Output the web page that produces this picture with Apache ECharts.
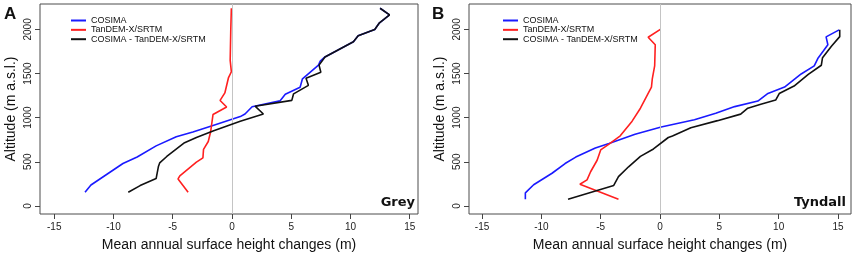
<!DOCTYPE html>
<html>
<head>
<meta charset="utf-8">
<title>Mean annual surface height changes</title>
<script src="https://cdn.jsdelivr.net/npm/echarts@6.0.0/dist/echarts.min.js"></script>
<style>
html, body { margin: 0; padding: 0; background: #fff; }
#chart { width: 856px; height: 257px; }
</style>
</head>
<body>
<div id="chart"></div>
<script>
// each point: [height change (m), altitude (m a.s.l.)]
var greyCosima = [[-12.4, 155], [-11.9, 237], [-9.2, 480], [-8.0, 554], [-6.4, 680], [-4.7, 783], [-3.3, 838], [-1.6, 912], [0.7, 1012], [1.1, 1041], [1.7, 1123], [4.05, 1190], [4.5, 1265], [5.75, 1345], [5.95, 1440], [7.3, 1595], [7.45, 1640], [7.85, 1688], [10.25, 1860], [10.65, 1927], [12.05, 2000], [12.45, 2075], [13.3, 2165], [12.5, 2240]]
var greyTandem = [[-3.7, 155], [-4.55, 305], [-4.4, 340], [-3.0, 495], [-2.45, 545], [-2.4, 640], [-2.0, 730], [-1.8, 840], [-1.6, 1035], [-0.45, 1120], [-1.0, 1195], [-0.6, 1280], [-0.3, 1450], [-0.05, 1520], [-0.15, 1650], [-0.1, 2000], [-0.05, 2240]]
var greyDiff = [[-8.75, 155], [-7.75, 230], [-6.4, 310], [-6.2, 450], [-6.1, 487], [-5.5, 560], [-4.0, 716], [-3.0, 775], [-1.6, 849], [0.7, 960], [2.65, 1041], [1.95, 1130], [5.05, 1196], [5.2, 1270], [6.45, 1366], [6.25, 1447], [7.5, 1514], [7.35, 1595], [7.85, 1688], [10.25, 1860], [10.65, 1927], [12.05, 2000], [12.45, 2075], [13.3, 2165], [12.5, 2240]]

var tyndallCosima = [[-11.35, 75], [-11.35, 147], [-10.65, 240], [-9.1, 370], [-8.0, 480], [-7.1, 553], [-5.45, 657], [-4.3, 708], [-2.1, 811], [0.1, 895], [2.9, 977], [4.7, 1050], [6.3, 1125], [8.25, 1188], [9.1, 1275], [10.5, 1347], [11.9, 1495], [13.0, 1586], [13.3, 1670], [13.75, 1752], [14.15, 1826], [14.0, 1915], [15.1, 1995]]
var tyndallTandem = [[-3.5, 75], [-6.75, 245], [-6.15, 295], [-5.85, 387], [-5.3, 517], [-5.0, 634], [-4.3, 701], [-3.35, 794], [-2.35, 960], [-1.65, 1107], [-0.72, 1347], [-0.65, 1440], [-0.45, 1586], [-0.4, 1826], [-1.0, 1911], [0.03, 2000]]
var tyndallDiff = [[-7.75, 75], [-3.9, 232], [-3.5, 332], [-2.65, 443], [-1.65, 561], [-0.55, 645], [0.7, 775], [1.05, 793], [2.6, 885], [4.85, 966], [6.8, 1040], [7.4, 1107], [8.5, 1151], [9.75, 1199], [10.05, 1273], [11.3, 1358], [12.5, 1490], [13.6, 1594], [13.7, 1679], [14.45, 1810], [15.15, 1918], [15.15, 1995]]

var xTicks = [-15, -10, -5, 0, 5, 10, 15]
var yTicks = [0, 500, 1000, 1500, 2000]
var seriesNames = ['COSIMA', 'TanDEM-X/SRTM', 'COSIMA - TanDEM-X/SRTM']
var colors = ['#1a1aff', '#ff2020', '#111111']
var font = 'Liberation Sans, Arial, sans-serif'

function makeXAxis (idx) {
  return {
    type: 'value',
    gridIndex: idx,
    min: idx === 0 ? -16.2 : -16.1,
    max: idx === 0 ? 15.7 : 16.1,
    name: 'Mean annual surface height changes (m)',
    nameLocation: 'middle',
    nameGap: 24,
    nameTextStyle: { fontFamily: font, fontSize: 14, color: '#111' },
    axisLine: { show: false, onZero: false },
    axisTick: { show: true, inside: false, length: 5, customValues: xTicks, lineStyle: { color: '#444' } },
    axisLabel: { customValues: xTicks, margin: 8, fontFamily: font, fontSize: 10, color: '#222' },
    splitLine: { show: false }
  }
}

function makeYAxis (idx) {
  return {
    type: 'value',
    gridIndex: idx,
    min: -92,
    max: 2288,
    name: 'Altitude (m a.s.l.)',
    nameLocation: 'middle',
    nameGap: 22,
    nameTextStyle: { fontFamily: font, fontSize: 14, color: '#111' },
    axisLine: { show: false, onZero: false },
    axisTick: { show: true, inside: false, length: 5, customValues: yTicks, lineStyle: { color: '#444' } },
    axisLabel: {
      customValues: yTicks,
      rotate: 90,
      margin: 7,
      fontFamily: font,
      fontSize: 10,
      color: '#222',
      formatter: function (v) { return String(v) }
    },
    splitLine: { show: false }
  }
}

function makeSeries (idx, lists) {
  var out = []
  for (var i = 0; i < lists.length; i++) {
    var s = {
      name: seriesNames[i],
      type: 'line',
      xAxisIndex: idx,
      yAxisIndex: idx,
      data: lists[i],
      symbol: 'none',
      color: colors[i],
      lineStyle: { width: 1.6, color: colors[i] },
      z: 3 + i
    }
    if (i === 0) {
      s.markLine = {
        silent: true,
        symbol: 'none',
        label: { show: false },
        lineStyle: { color: '#c4c4c4', width: 1, type: 'solid' },
        data: [{ xAxis: 0 }]
      }
    }
    out.push(s)
  }
  return out
}

function makeLegend (left) {
  return {
    orient: 'vertical',
    left: left,
    top: 16,
    padding: 0,
    itemGap: 0.35,
    itemWidth: 15,
    itemHeight: 2,
    icon: 'rect',
    data: seriesNames,
    textStyle: { fontFamily: font, fontSize: 9, lineHeight: 9, color: '#111' }
  }
}

function panelLabel (x, text) {
  return { type: 'text', x: x, y: 6, style: { text: text, font: 'bold 17px ' + font, fill: '#111' } }
}

function siteLabel (x, text) {
  return { type: 'text', x: x, y: 203, style: { text: text, font: 'bold 13px "DejaVu Sans", sans-serif', fill: '#111', align: 'right', verticalAlign: 'middle' } }
}

var myChart = echarts.init(document.getElementById('chart'), null, { renderer: 'canvas' })
myChart.setOption({
  animation: false,
  backgroundColor: '#fff',
  grid: [
    { left: 40, top: 4, width: 378, height: 215, show: true, borderColor: '#4d4d4d', borderWidth: 1, backgroundColor: 'transparent' },
    { left: 469, top: 4, width: 382, height: 215, show: true, borderColor: '#4d4d4d', borderWidth: 1, backgroundColor: 'transparent' }
  ],
  xAxis: [makeXAxis(0), makeXAxis(1)],
  yAxis: [makeYAxis(0), makeYAxis(1)],
  legend: [makeLegend(71), makeLegend(503)],
  series: makeSeries(0, [greyCosima, greyTandem, greyDiff]).concat(makeSeries(1, [tyndallCosima, tyndallTandem, tyndallDiff])),
  graphic: [
    panelLabel(4, 'A'),
    panelLabel(432, 'B'),
    siteLabel(415, 'Grey'),
    siteLabel(846, 'Tyndall')
  ]
})
</script>
</body>
</html>
